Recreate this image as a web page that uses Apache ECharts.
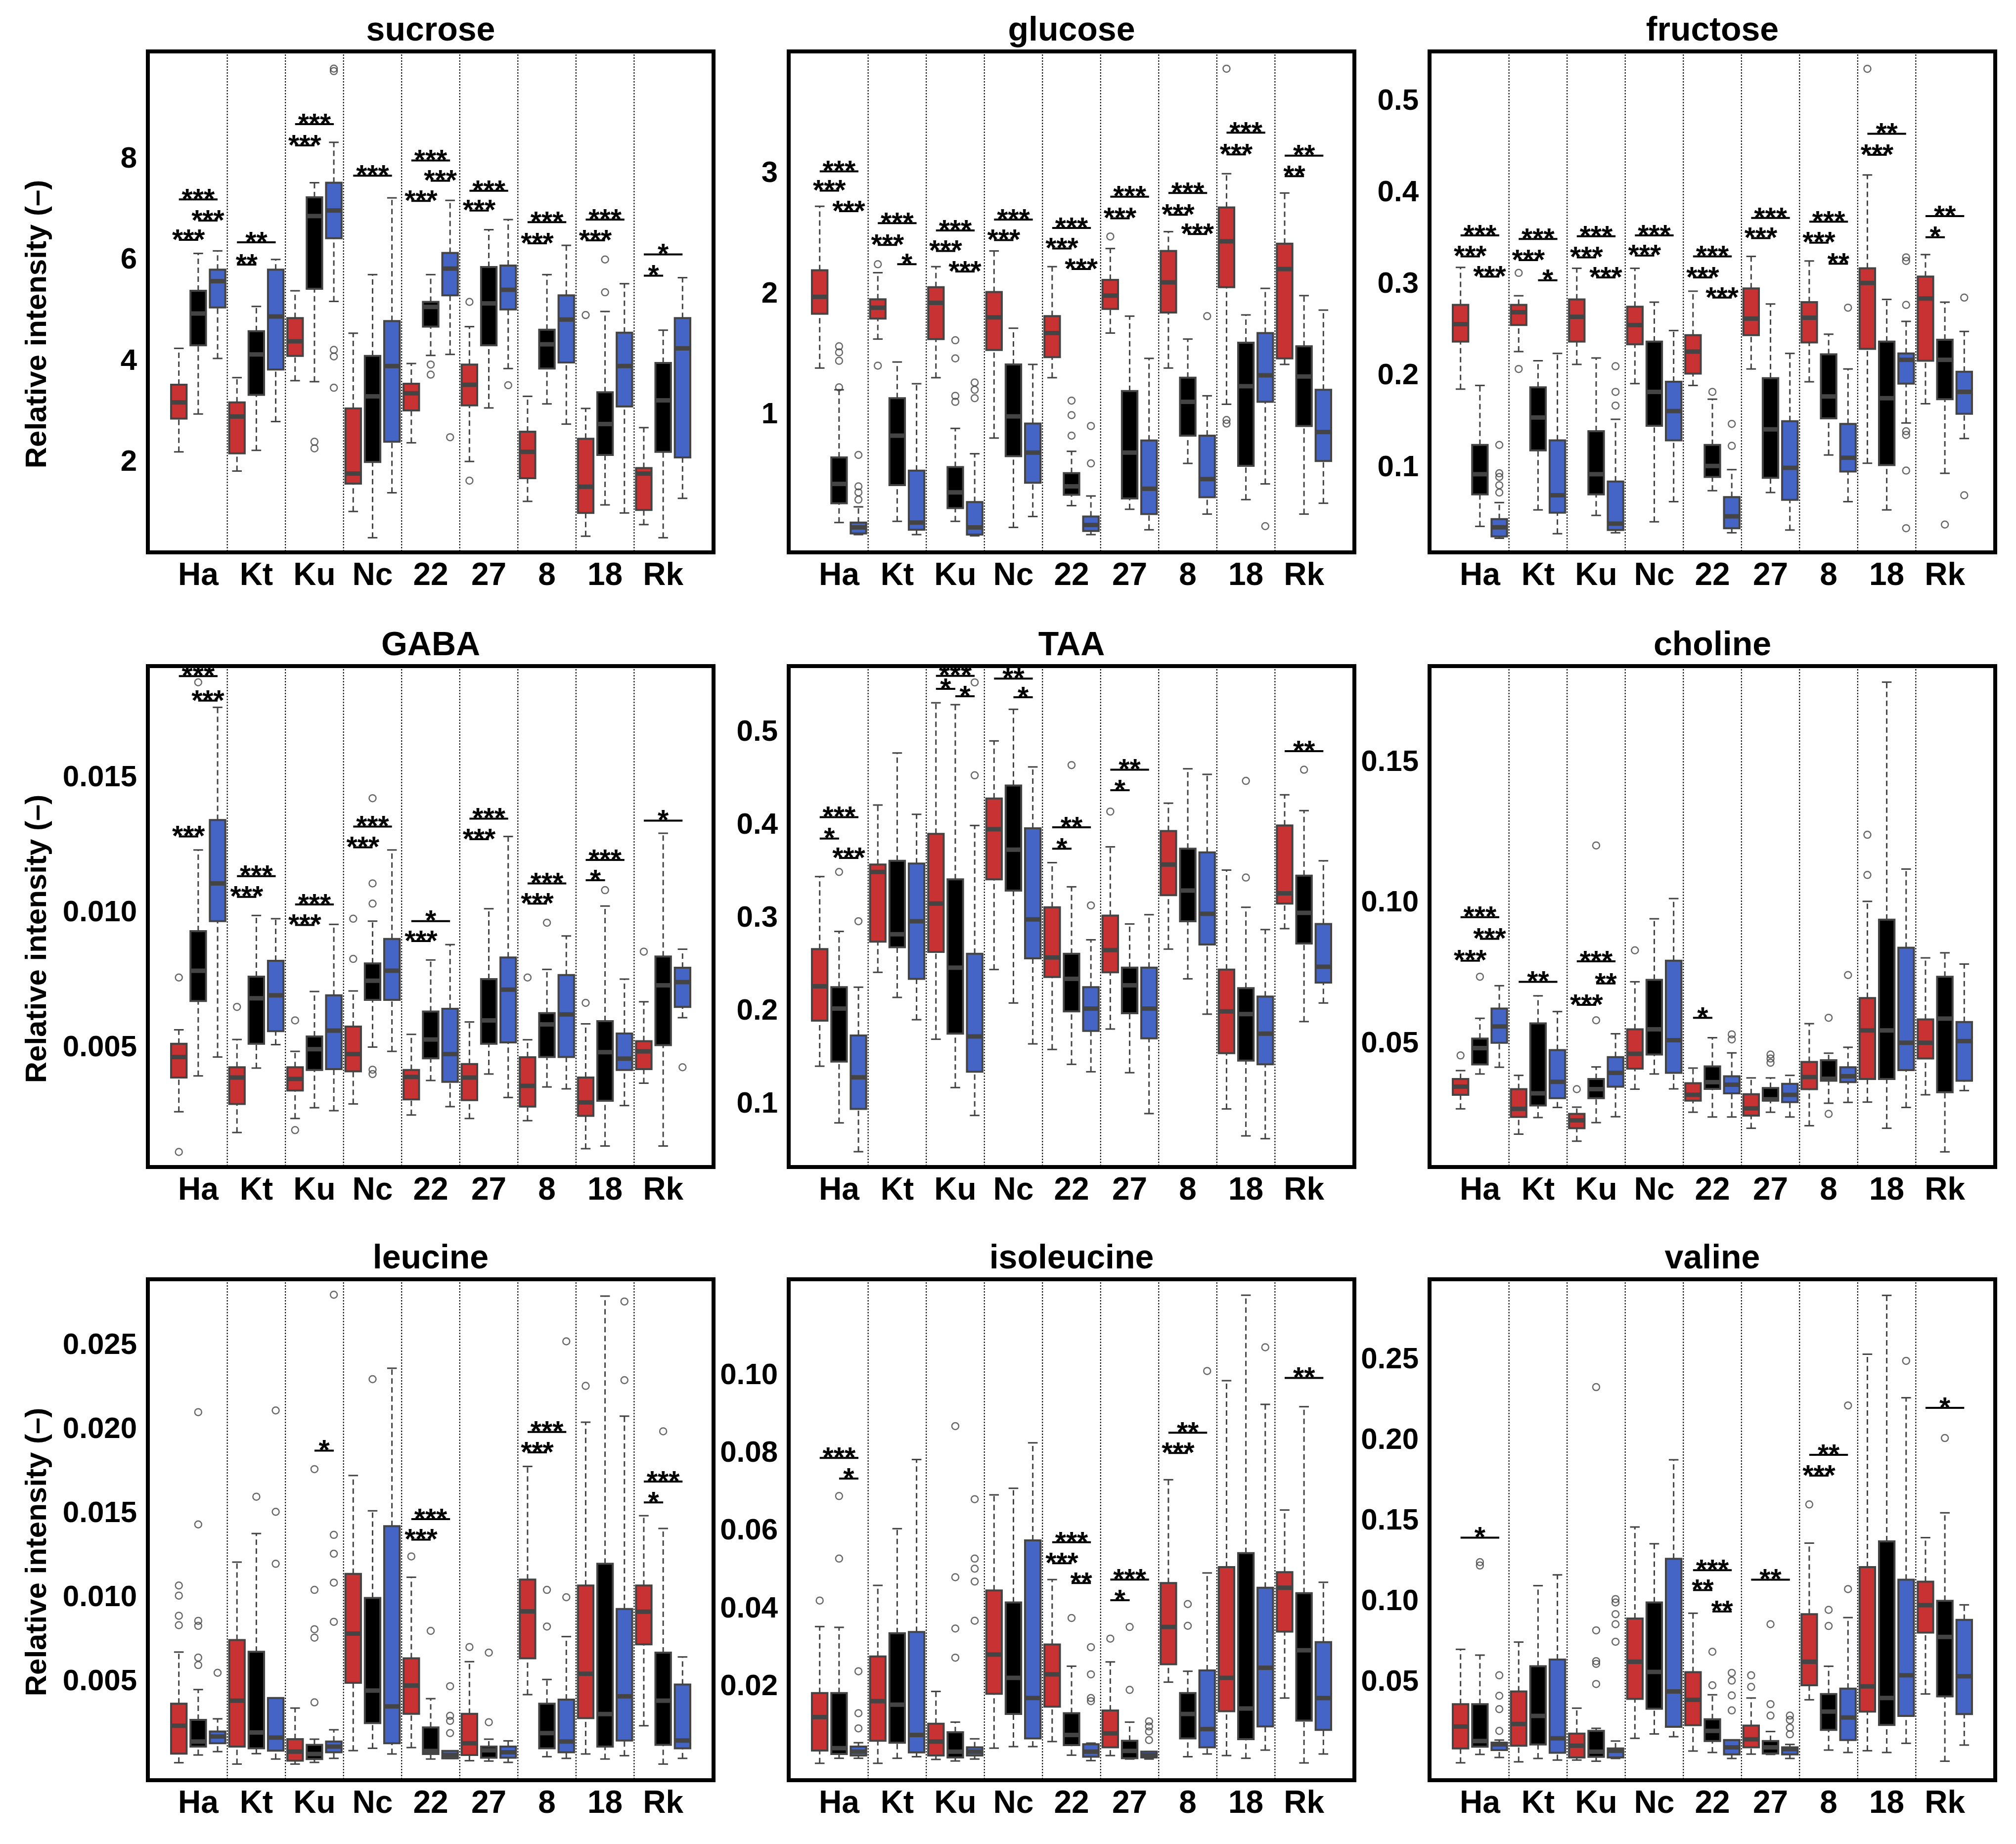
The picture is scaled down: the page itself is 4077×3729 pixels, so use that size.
<!DOCTYPE html>
<html>
<head>
<meta charset="utf-8">
<title>Relative intensity by group</title>
<script src="https://cdn.jsdelivr.net/npm/echarts@6/dist/echarts.min.js"></script>
<style>
  html, body { margin: 0; padding: 0; background: #fff; }
  #chart { width: 4077px; height: 3729px; }
</style>
</head>
<body>
<div id="chart"></div>
<script>
// groups on the x axis, three boxes each: red, black, blue
const groups = ['Ha', 'Kt', 'Ku', 'Nc', '22', '27', '8', '18', 'Rk'];

// box stats per group: [lower whisker, Q1, median, Q3, upper whisker]
// outliers: [group, box (0 red, 1 black, 2 blue), value]
// significance: [group, from box, to box, y, stars]

const sucroseRed = [[2.21, 2.87, 3.19, 3.54, 4.26], [1.83, 2.18, 2.91, 3.19, 3.68], [3.62, 4.11, 4.40, 4.86, 5.40], [1.03, 1.58, 1.78, 3.07, 4.56], [2.39, 3.03, 3.37, 3.56, 3.96], [2.02, 3.13, 3.54, 3.94, 4.69], [1.23, 1.69, 2.21, 2.61, 3.31], [0.54, 1.00, 1.52, 2.47, 3.07], [0.77, 1.06, 1.78, 1.89, 2.69]];
const sucroseBlack = [[2.96, 4.32, 4.95, 5.40, 6.14], [2.24, 3.34, 4.14, 4.60, 5.09], [3.60, 5.44, 6.88, 7.25, 7.54], [0.51, 2.01, 3.31, 4.11, 5.72], [4.12, 4.69, 5.08, 5.18, 5.72], [3.08, 4.32, 5.15, 5.87, 6.61], [3.16, 3.86, 4.34, 4.63, 5.72], [1.16, 2.15, 2.76, 3.39, 4.99], [0.51, 2.21, 3.23, 3.97, 4.62]];
const sucroseBlue = [[4.06, 5.07, 5.59, 5.82, 6.19], [2.81, 3.84, 4.89, 5.82, 6.02], [5.19, 6.44, 6.99, 7.54, 8.34], [1.40, 2.41, 3.91, 4.80, 7.24], [4.14, 5.31, 5.84, 6.15, 7.19], [3.86, 5.03, 5.42, 5.90, 6.81], [2.76, 3.98, 4.83, 5.31, 6.30], [1.00, 3.11, 3.91, 4.57, 5.54], [1.29, 2.10, 4.26, 4.86, 5.66]];
const sucroseOut = [[2, 1, 2.41], [2, 1, 2.28], [2, 2, 9.80], [2, 2, 9.75], [2, 2, 4.23], [2, 2, 4.10], [2, 2, 3.48], [4, 1, 3.94], [4, 1, 3.74], [4, 2, 2.50], [5, 0, 5.18], [5, 0, 1.64], [5, 2, 3.53], [7, 0, 4.92], [7, 1, 6.02], [7, 1, 5.37]];
const sucroseSig = [[0, 0, 2, 7.21, '***'], [0, 1, 2, 6.79, '***'], [0, 0, 1, 6.41, '***'], [1, 0, 2, 6.36, '**'], [1, 0, 1, 5.92, '**'], [2, 0, 2, 8.70, '***'], [2, 0, 1, 8.28, '***'], [3, 0, 2, 7.68, '***'], [4, 0, 2, 7.98, '***'], [4, 1, 2, 7.58, '***'], [4, 0, 1, 7.18, '***'], [5, 0, 2, 7.38, '***'], [5, 0, 1, 6.99, '***'], [6, 0, 2, 6.76, '***'], [6, 0, 1, 6.34, '***'], [7, 0, 2, 6.81, '***'], [7, 0, 1, 6.40, '***'], [8, 0, 2, 6.12, '*'], [8, 0, 1, 5.70, '*']];
const sucroseTicks = [2, 4, 6, 8];

const glucoseRed = [[1.39, 1.84, 1.98, 2.20, 2.73], [1.63, 1.80, 1.89, 1.96, 2.18], [1.31, 1.63, 1.93, 2.06, 2.23], [0.81, 1.54, 1.81, 2.02, 2.36], [1.31, 1.48, 1.68, 1.82, 2.23], [1.68, 1.88, 1.99, 2.12, 2.38], [1.39, 1.85, 2.10, 2.36, 2.52], [1.09, 2.06, 2.44, 2.72, 3.00], [1.42, 1.47, 2.21, 2.42, 2.84]];
const glucoseBlack = [[0.11, 0.27, 0.43, 0.65, 1.21], [0.12, 0.42, 0.83, 1.14, 1.44], [0.12, 0.23, 0.36, 0.57, 0.89], [0.07, 0.66, 0.99, 1.42, 1.72], [0.25, 0.34, 0.41, 0.52, 0.70], [0.22, 0.31, 0.69, 1.20, 1.82], [0.60, 0.83, 1.11, 1.31, 1.63], [0.30, 0.58, 1.24, 1.60, 1.83], [0.18, 0.91, 1.32, 1.57, 1.99]];
const glucoseBlue = [[0.01, 0.02, 0.07, 0.11, 0.24], [0.01, 0.05, 0.11, 0.54, 1.26], [0.00, 0.01, 0.07, 0.28, 0.68], [0.16, 0.44, 0.69, 0.93, 1.42], [0.01, 0.04, 0.09, 0.16, 0.33], [0.05, 0.18, 0.39, 0.79, 1.47], [0.18, 0.32, 0.47, 0.83, 1.16], [0.43, 1.11, 1.33, 1.68, 2.05], [0.27, 0.62, 0.86, 1.21, 1.87]];
const glucoseOut = [[0, 1, 1.57], [0, 1, 1.52], [0, 1, 1.45], [0, 1, 1.23], [0, 2, 0.67], [0, 2, 0.41], [0, 2, 0.36], [0, 2, 0.30], [1, 0, 2.25], [1, 0, 1.41], [2, 1, 1.62], [2, 1, 1.47], [2, 1, 1.16], [2, 1, 1.11], [2, 2, 1.27], [2, 2, 1.21], [2, 2, 1.14], [4, 1, 1.12], [4, 1, 1.00], [4, 1, 0.83], [4, 2, 0.91], [4, 2, 0.60], [5, 0, 2.48], [6, 2, 1.82], [7, 0, 3.87], [7, 0, 0.96], [7, 0, 0.93], [7, 2, 0.08]];
const glucoseSig = [[0, 0, 2, 3.02, '***'], [0, 0, 1, 2.86, '***'], [0, 1, 2, 2.69, '***'], [1, 0, 2, 2.59, '***'], [1, 0, 1, 2.41, '***'], [1, 1, 2, 2.25, '*'], [2, 0, 2, 2.53, '***'], [2, 0, 1, 2.36, '***'], [2, 1, 2, 2.19, '***'], [3, 0, 2, 2.62, '***'], [3, 0, 1, 2.45, '***'], [4, 0, 2, 2.55, '***'], [4, 0, 1, 2.38, '***'], [4, 1, 2, 2.21, '***'], [5, 0, 2, 2.81, '***'], [5, 0, 1, 2.63, '***'], [6, 0, 2, 2.84, '***'], [6, 0, 1, 2.66, '***'], [6, 1, 2, 2.50, '***'], [7, 0, 2, 3.34, '***'], [7, 0, 1, 3.16, '***'], [8, 0, 2, 3.15, '**'], [8, 0, 1, 2.98, '**']];
const glucoseTicks = [1, 2, 3];

const fructoseRed = [[0.186, 0.238, 0.257, 0.278, 0.319], [0.227, 0.256, 0.270, 0.278, 0.288], [0.213, 0.238, 0.265, 0.284, 0.318], [0.192, 0.235, 0.256, 0.276, 0.318], [0.190, 0.203, 0.227, 0.245, 0.293], [0.208, 0.245, 0.263, 0.296, 0.331], [0.194, 0.237, 0.264, 0.281, 0.326], [0.105, 0.230, 0.302, 0.318, 0.420], [0.170, 0.217, 0.285, 0.309, 0.333]];
const fructoseBlack = [[0.036, 0.071, 0.093, 0.125, 0.190], [0.054, 0.119, 0.155, 0.188, 0.217], [0.048, 0.071, 0.093, 0.140, 0.220], [0.041, 0.146, 0.183, 0.238, 0.281], [0.075, 0.090, 0.102, 0.125, 0.175], [0.073, 0.089, 0.142, 0.198, 0.279], [0.114, 0.154, 0.178, 0.224, 0.246], [0.054, 0.103, 0.176, 0.238, 0.284], [0.094, 0.175, 0.218, 0.240, 0.281]];
const fructoseBlue = [[0.023, 0.025, 0.035, 0.044, 0.062], [0.028, 0.051, 0.070, 0.130, 0.225], [0.029, 0.032, 0.039, 0.085, 0.153], [0.063, 0.130, 0.162, 0.194, 0.250], [0.029, 0.034, 0.047, 0.068, 0.098], [0.032, 0.065, 0.100, 0.151, 0.225], [0.063, 0.096, 0.111, 0.148, 0.208], [0.149, 0.192, 0.218, 0.225, 0.260], [0.132, 0.159, 0.183, 0.205, 0.249]];
const fructoseOut = [[0, 2, 0.125], [0, 2, 0.094], [0, 2, 0.090], [0, 2, 0.081], [0, 2, 0.073], [1, 0, 0.313], [1, 0, 0.208], [2, 2, 0.211], [2, 2, 0.183], [2, 2, 0.168], [4, 1, 0.183], [4, 2, 0.148], [4, 2, 0.124], [6, 2, 0.275], [7, 0, 0.536], [7, 2, 0.330], [7, 2, 0.326], [7, 2, 0.278], [7, 2, 0.140], [7, 2, 0.136], [7, 2, 0.097], [7, 2, 0.034], [8, 1, 0.038], [8, 2, 0.286], [8, 2, 0.070]];
const fructoseSig = [[0, 0, 2, 0.354, '***'], [0, 0, 1, 0.331, '***'], [0, 1, 2, 0.309, '***'], [1, 0, 2, 0.350, '***'], [1, 0, 1, 0.327, '***'], [1, 1, 2, 0.305, '*'], [2, 0, 2, 0.353, '***'], [2, 0, 1, 0.330, '***'], [2, 1, 2, 0.308, '***'], [3, 0, 2, 0.354, '***'], [3, 0, 1, 0.332, '***'], [4, 0, 2, 0.331, '***'], [4, 0, 1, 0.308, '***'], [4, 1, 2, 0.286, '***'], [5, 0, 2, 0.373, '***'], [5, 0, 1, 0.351, '***'], [6, 0, 2, 0.369, '***'], [6, 0, 1, 0.346, '***'], [6, 1, 2, 0.323, '**'], [7, 0, 2, 0.465, '**'], [7, 0, 1, 0.442, '***'], [8, 0, 2, 0.375, '**'], [8, 0, 1, 0.352, '*']];
const fructoseTicks = [0.1, 0.2, 0.3, 0.4, 0.5];

const gabaRed = [[0.00263, 0.00390, 0.00466, 0.00515, 0.00567], [0.00186, 0.00292, 0.00390, 0.00428, 0.00531], [0.00238, 0.00342, 0.00385, 0.00428, 0.00487], [0.00292, 0.00413, 0.00477, 0.00579, 0.00711], [0.00251, 0.00309, 0.00392, 0.00418, 0.00550], [0.00238, 0.00306, 0.00390, 0.00440, 0.00596], [0.00230, 0.00282, 0.00359, 0.00465, 0.00530], [0.00126, 0.00248, 0.00298, 0.00390, 0.00589], [0.00369, 0.00421, 0.00487, 0.00525, 0.00671]];
const gabaBlack = [[0.00396, 0.00674, 0.00786, 0.00933, 0.01234], [0.00425, 0.00515, 0.00684, 0.00764, 0.00991], [0.00278, 0.00418, 0.00495, 0.00542, 0.00709], [0.00503, 0.00678, 0.00749, 0.00813, 0.00970], [0.00379, 0.00461, 0.00531, 0.00635, 0.00826], [0.00403, 0.00515, 0.00602, 0.00755, 0.01016], [0.00355, 0.00466, 0.00587, 0.00629, 0.00791], [0.00136, 0.00304, 0.00484, 0.00599, 0.01026], [0.00136, 0.00510, 0.00732, 0.00839, 0.01296]];
const gabaBlue = [[0.00466, 0.00970, 0.01110, 0.01345, 0.01763], [0.00512, 0.00562, 0.00695, 0.00823, 0.00979], [0.00267, 0.00421, 0.00564, 0.00695, 0.00958], [0.00487, 0.00678, 0.00786, 0.00904, 0.01234], [0.00282, 0.00374, 0.00477, 0.00645, 0.00883], [0.00316, 0.00520, 0.00716, 0.00835, 0.01284], [0.00348, 0.00466, 0.00624, 0.00770, 0.00915], [0.00286, 0.00418, 0.00460, 0.00553, 0.00755], [0.00612, 0.00652, 0.00744, 0.00797, 0.00866]];
const gabaOut = [[0, 0, 0.00761], [0, 0, 0.00114], [0, 1, 0.01856], [1, 0, 0.00652], [2, 0, 0.00602], [2, 0, 0.00195], [3, 0, 0.00979], [3, 0, 0.00830], [3, 1, 0.01426], [3, 1, 0.01110], [3, 1, 0.01035], [3, 1, 0.00419], [3, 1, 0.00403], [6, 0, 0.00761], [6, 1, 0.00964], [7, 0, 0.00667], [7, 1, 0.01085], [8, 0, 0.00857], [8, 2, 0.00428]];
const gabaSig = [[0, 0, 2, 0.01879, '***'], [0, 1, 2, 0.01788, '***'], [0, 0, 1, 0.01284, '***'], [1, 0, 2, 0.01137, '***'], [1, 0, 1, 0.01060, '***'], [2, 0, 2, 0.01032, '***'], [2, 0, 1, 0.00956, '***'], [3, 0, 2, 0.01321, '***'], [3, 0, 1, 0.01244, '***'], [4, 0, 2, 0.00970, '*'], [4, 0, 1, 0.00896, '***'], [5, 0, 2, 0.01350, '***'], [5, 0, 1, 0.01274, '***'], [6, 0, 2, 0.01110, '***'], [6, 0, 1, 0.01035, '***'], [7, 0, 2, 0.01197, '***'], [7, 0, 1, 0.01122, '*'], [8, 0, 2, 0.01343, '*']];
const gabaTicks = [0.005, 0.010, 0.015];

const taaRed = [[0.141, 0.190, 0.227, 0.267, 0.345], [0.242, 0.275, 0.350, 0.358, 0.422], [0.170, 0.264, 0.316, 0.391, 0.532], [0.245, 0.342, 0.396, 0.429, 0.491], [0.159, 0.237, 0.258, 0.312, 0.360], [0.181, 0.242, 0.266, 0.303, 0.377], [0.267, 0.325, 0.358, 0.394, 0.424], [0.095, 0.155, 0.200, 0.245, 0.352], [0.289, 0.316, 0.327, 0.400, 0.433]];
const taaBlack = [[0.080, 0.146, 0.203, 0.226, 0.286], [0.215, 0.269, 0.283, 0.362, 0.478], [0.118, 0.176, 0.247, 0.342, 0.530], [0.209, 0.330, 0.374, 0.443, 0.525], [0.143, 0.200, 0.235, 0.262, 0.334], [0.134, 0.198, 0.228, 0.247, 0.294], [0.235, 0.297, 0.330, 0.375, 0.461], [0.066, 0.147, 0.197, 0.225, 0.312], [0.189, 0.273, 0.306, 0.346, 0.416]];
const taaBlue = [[0.049, 0.095, 0.129, 0.174, 0.226], [0.191, 0.235, 0.297, 0.359, 0.412], [0.088, 0.135, 0.173, 0.262, 0.400], [0.165, 0.257, 0.299, 0.397, 0.463], [0.135, 0.179, 0.203, 0.226, 0.277], [0.090, 0.171, 0.203, 0.247, 0.304], [0.197, 0.272, 0.305, 0.371, 0.455], [0.063, 0.143, 0.176, 0.216, 0.288], [0.209, 0.231, 0.248, 0.294, 0.362]];
const taaOut = [[0, 1, 0.350], [0, 2, 0.297], [2, 2, 0.554], [2, 2, 0.454], [4, 1, 0.465], [4, 2, 0.314], [5, 0, 0.415], [7, 1, 0.448], [7, 1, 0.344], [8, 1, 0.460]];
const taaSig = [[0, 0, 2, 0.409, '***'], [0, 0, 1, 0.386, '*'], [0, 1, 2, 0.365, '***'], [2, 0, 2, 0.561, '***'], [2, 0, 1, 0.547, '*'], [2, 1, 2, 0.539, '*'], [3, 0, 2, 0.558, '**'], [3, 1, 2, 0.538, '*'], [4, 0, 2, 0.398, '**'], [4, 0, 1, 0.375, '*'], [5, 0, 2, 0.460, '**'], [5, 0, 1, 0.438, '*'], [8, 0, 2, 0.480, '**']];
const taaTicks = [0.1, 0.2, 0.3, 0.4, 0.5];

const cholineRed = [[0.0269, 0.0319, 0.0348, 0.0375, 0.0405], [0.0179, 0.0240, 0.0269, 0.0339, 0.0388], [0.0154, 0.0200, 0.0228, 0.0251, 0.0275], [0.0339, 0.0412, 0.0465, 0.0552, 0.0721], [0.0257, 0.0298, 0.0319, 0.0360, 0.0414], [0.0200, 0.0245, 0.0271, 0.0321, 0.0379], [0.0209, 0.0339, 0.0382, 0.0436, 0.0572], [0.0293, 0.0375, 0.0548, 0.0663, 0.1007], [0.0319, 0.0448, 0.0504, 0.0587, 0.0806]];
const cholineBlack = [[0.0393, 0.0427, 0.0485, 0.0519, 0.0591], [0.0238, 0.0281, 0.0324, 0.0573, 0.0671], [0.0220, 0.0307, 0.0339, 0.0375, 0.0418], [0.0393, 0.0462, 0.0552, 0.0728, 0.0945], [0.0240, 0.0340, 0.0364, 0.0420, 0.0522], [0.0257, 0.0298, 0.0303, 0.0343, 0.0379], [0.0289, 0.0369, 0.0376, 0.0442, 0.0467], [0.0200, 0.0375, 0.0548, 0.0942, 0.1787], [0.0116, 0.0328, 0.0590, 0.0739, 0.0824]];
const cholineBlue = [[0.0417, 0.0504, 0.0562, 0.0626, 0.0707], [0.0274, 0.0307, 0.0365, 0.0478, 0.0615], [0.0241, 0.0348, 0.0397, 0.0453, 0.0536], [0.0340, 0.0397, 0.0513, 0.0796, 0.1017], [0.0240, 0.0324, 0.0355, 0.0385, 0.0468], [0.0240, 0.0293, 0.0319, 0.0358, 0.0388], [0.0292, 0.0364, 0.0385, 0.0417, 0.0488], [0.0274, 0.0407, 0.0504, 0.0842, 0.1122], [0.0334, 0.0369, 0.0510, 0.0578, 0.0784]];
const cholineOut = [[0, 0, 0.0459], [0, 1, 0.0739], [2, 0, 0.0339], [2, 1, 0.1206], [2, 1, 0.0584], [3, 0, 0.0833], [4, 2, 0.0534], [4, 2, 0.0516], [5, 1, 0.0462], [5, 1, 0.0448], [5, 1, 0.0433], [6, 1, 0.0593], [6, 1, 0.0251], [6, 2, 0.0745], [7, 0, 0.1244], [7, 0, 0.1101]];
const cholineSig = [[0, 0, 2, 0.0951, '***'], [0, 1, 2, 0.0874, '***'], [0, 0, 1, 0.0796, '***'], [1, 0, 2, 0.0721, '**'], [2, 0, 2, 0.0794, '***'], [2, 1, 2, 0.0715, '**'], [2, 0, 1, 0.0639, '***'], [4, 0, 1, 0.0593, '*']];
const cholineTicks = [0.05, 0.10, 0.15];

const leucineRed = [[0.00020, 0.00074, 0.00240, 0.00371, 0.00678], [0.00012, 0.00116, 0.00389, 0.00750, 0.01213], [0.00012, 0.00032, 0.00086, 0.00160, 0.00345], [0.00092, 0.00495, 0.00788, 0.01143, 0.01728], [0.00110, 0.00311, 0.00479, 0.00641, 0.01123], [0.00032, 0.00066, 0.00136, 0.00311, 0.00621], [0.00425, 0.00641, 0.00920, 0.01109, 0.01782], [0.00072, 0.00285, 0.00549, 0.01074, 0.02045], [0.00240, 0.00724, 0.00918, 0.01074, 0.01489]];
const leucineBlack = [[0.00066, 0.00116, 0.00146, 0.00275, 0.00455], [0.00074, 0.00106, 0.00200, 0.00680, 0.01383], [0.00022, 0.00042, 0.00072, 0.00126, 0.00160], [0.00106, 0.00256, 0.00449, 0.01000, 0.01518], [0.00042, 0.00072, 0.00090, 0.00230, 0.00401], [0.00030, 0.00050, 0.00094, 0.00116, 0.00160], [0.00056, 0.00106, 0.00196, 0.00371, 0.00515], [0.00042, 0.00116, 0.00309, 0.01203, 0.02795], [0.00012, 0.00126, 0.00389, 0.00675, 0.01413]];
const leucineBlue = [[0.00086, 0.00136, 0.00176, 0.00206, 0.00281], [0.00042, 0.00092, 0.00170, 0.00405, 0.00405], [0.00046, 0.00082, 0.00116, 0.00146, 0.00216], [0.00072, 0.00136, 0.00355, 0.01427, 0.02366], [0.00046, 0.00046, 0.00066, 0.00090, 0.00090], [0.00022, 0.00050, 0.00082, 0.00116, 0.00150], [0.00046, 0.00082, 0.00146, 0.00395, 0.00770], [0.00062, 0.00152, 0.00415, 0.00934, 0.02081], [0.00046, 0.00106, 0.00152, 0.00485, 0.00649]];
const leucineOut = [[0, 0, 0.01074], [0, 0, 0.01014], [0, 0, 0.00894], [0, 0, 0.00838], [0, 1, 0.02105], [0, 1, 0.01437], [0, 1, 0.00864], [0, 1, 0.00834], [0, 1, 0.00645], [0, 1, 0.00601], [0, 2, 0.00555], [1, 1, 0.01602], [1, 2, 0.02115], [1, 2, 0.01512], [1, 2, 0.01203], [2, 1, 0.01766], [2, 1, 0.01048], [2, 1, 0.00814], [2, 1, 0.00764], [2, 1, 0.00379], [2, 2, 0.02803], [2, 2, 0.01375], [2, 2, 0.01263], [2, 2, 0.01091], [2, 2, 0.00858], [3, 1, 0.02301], [4, 0, 0.01247], [4, 1, 0.00804], [4, 2, 0.00475], [4, 2, 0.00299], [4, 2, 0.00269], [4, 2, 0.00196], [5, 0, 0.00708], [5, 1, 0.00675], [5, 1, 0.00261], [6, 1, 0.01048], [6, 1, 0.00830], [6, 2, 0.02526], [6, 2, 0.01004], [7, 0, 0.02261], [7, 2, 0.02763], [7, 2, 0.02295], [8, 1, 0.01991]];
const leucineSig = [[2, 1, 2, 0.01876, '*'], [4, 0, 2, 0.01469, '***'], [4, 0, 1, 0.01347, '***'], [6, 0, 2, 0.01987, '***'], [6, 0, 1, 0.01866, '***'], [8, 0, 2, 0.01692, '***'], [8, 0, 1, 0.01568, '*']];
const leucineTicks = [0.005, 0.010, 0.015, 0.020, 0.025];

const isoleucineRed = [[0.0003, 0.0036, 0.0122, 0.0184, 0.0355], [0.0003, 0.0061, 0.0163, 0.0278, 0.0461], [0.0013, 0.0023, 0.0059, 0.0105, 0.0188], [0.0042, 0.0182, 0.0283, 0.0448, 0.0694], [0.0059, 0.0149, 0.0232, 0.0309, 0.0476], [0.0023, 0.0044, 0.0080, 0.0139, 0.0264], [0.0212, 0.0258, 0.0354, 0.0467, 0.0733], [0.0023, 0.0137, 0.0223, 0.0508, 0.0988], [0.0171, 0.0342, 0.0455, 0.0495, 0.0655]];
const isoleucineBlack = [[0.0016, 0.0027, 0.0042, 0.0184, 0.0353], [0.0016, 0.0056, 0.0154, 0.0338, 0.0607], [0.0009, 0.0018, 0.0033, 0.0083, 0.0109], [0.0046, 0.0130, 0.0223, 0.0417, 0.0711], [0.0024, 0.0050, 0.0076, 0.0132, 0.0253], [0.0014, 0.0016, 0.0035, 0.0061, 0.0109], [0.0020, 0.0067, 0.0130, 0.0184, 0.0240], [0.0016, 0.0065, 0.0144, 0.0544, 0.1208], [0.0004, 0.0113, 0.0294, 0.0441, 0.0921]];
const isoleucineBlue = [[0.0016, 0.0023, 0.0033, 0.0046, 0.0056], [0.0020, 0.0031, 0.0076, 0.0341, 0.0785], [0.0014, 0.0023, 0.0033, 0.0044, 0.0066], [0.0046, 0.0067, 0.0171, 0.0577, 0.0828], [0.0010, 0.0020, 0.0033, 0.0052, 0.0055], [0.0014, 0.0018, 0.0024, 0.0033, 0.0033], [0.0027, 0.0044, 0.0091, 0.0242, 0.0493], [0.0037, 0.0098, 0.0249, 0.0455, 0.0927], [0.0027, 0.0089, 0.0171, 0.0315, 0.0469]];
const isoleucineOut = [[0, 0, 0.0422], [0, 1, 0.0691], [0, 1, 0.0530], [0, 2, 0.0240], [0, 2, 0.0132], [0, 2, 0.0093], [2, 1, 0.0871], [2, 1, 0.0482], [2, 1, 0.0350], [2, 1, 0.0275], [2, 2, 0.0683], [2, 2, 0.0530], [2, 2, 0.0504], [2, 2, 0.0471], [2, 2, 0.0370], [4, 1, 0.0377], [4, 2, 0.0302], [4, 2, 0.0232], [4, 2, 0.0171], [4, 2, 0.0163], [5, 0, 0.0324], [5, 1, 0.0354], [5, 1, 0.0192], [5, 2, 0.0111], [5, 2, 0.0098], [5, 2, 0.0085], [5, 2, 0.0063], [6, 1, 0.0413], [6, 1, 0.0357], [6, 2, 0.1013], [7, 2, 0.1074]];
const isoleucineSig = [[0, 0, 2, 0.0789, '***'], [0, 1, 2, 0.0736, '*'], [4, 0, 2, 0.0572, '***'], [4, 0, 1, 0.0518, '***'], [4, 1, 2, 0.0467, '**'], [5, 0, 2, 0.0476, '***'], [5, 0, 1, 0.0423, '*'], [6, 0, 2, 0.0854, '**'], [6, 0, 1, 0.0802, '***'], [8, 0, 2, 0.0995, '**']];
const isoleucineTicks = [0.02, 0.04, 0.06, 0.08, 0.10];

const valineRed = [[0.0003, 0.0092, 0.0228, 0.0367, 0.0707], [0.0009, 0.0109, 0.0244, 0.0446, 0.0752], [0.0020, 0.0036, 0.0109, 0.0184, 0.0342], [0.0155, 0.0400, 0.0630, 0.0898, 0.1466], [0.0076, 0.0236, 0.0394, 0.0565, 0.0931], [0.0057, 0.0099, 0.0149, 0.0234, 0.0405], [0.0394, 0.0484, 0.0630, 0.0925, 0.1366], [0.0078, 0.0321, 0.0477, 0.1217, 0.2538], [0.0430, 0.0811, 0.0981, 0.1127, 0.1400]];
const valineBlack = [[0.0055, 0.0103, 0.0138, 0.0367, 0.0671], [0.0030, 0.0117, 0.0294, 0.0602, 0.1102], [0.0013, 0.0040, 0.0072, 0.0201, 0.0217], [0.0182, 0.0338, 0.0567, 0.0998, 0.1362], [0.0067, 0.0138, 0.0201, 0.0273, 0.0425], [0.0055, 0.0061, 0.0099, 0.0138, 0.0197], [0.0082, 0.0207, 0.0321, 0.0430, 0.0602], [0.0067, 0.0238, 0.0405, 0.1377, 0.2903], [0.0013, 0.0415, 0.0784, 0.1008, 0.1554]];
const valineBlue = [[0.0036, 0.0082, 0.0117, 0.0128, 0.0144], [0.0020, 0.0065, 0.0155, 0.0644, 0.1169], [0.0030, 0.0036, 0.0078, 0.0092, 0.0138], [0.0165, 0.0226, 0.0446, 0.1269, 0.1883], [0.0030, 0.0055, 0.0099, 0.0144, 0.0144], [0.0030, 0.0055, 0.0088, 0.0099, 0.0117], [0.0067, 0.0144, 0.0284, 0.0463, 0.0904], [0.0124, 0.0294, 0.0546, 0.1139, 0.2268], [0.0113, 0.0305, 0.0540, 0.0890, 0.0983]];
const valineOut = [[0, 1, 0.1248], [0, 1, 0.1227], [0, 2, 0.0546], [0, 2, 0.0419], [0, 2, 0.0336], [0, 2, 0.0201], [2, 1, 0.2334], [2, 1, 0.0825], [2, 1, 0.0634], [2, 1, 0.0617], [2, 1, 0.0492], [2, 2, 0.1019], [2, 2, 0.0998], [2, 2, 0.0925], [2, 2, 0.0863], [2, 2, 0.0754], [4, 1, 0.0692], [4, 1, 0.0484], [4, 2, 0.0561], [4, 2, 0.0513], [4, 2, 0.0421], [4, 2, 0.0328], [5, 0, 0.0546], [5, 0, 0.0474], [5, 1, 0.0863], [5, 1, 0.0367], [5, 1, 0.0296], [5, 2, 0.0296], [5, 2, 0.0269], [5, 2, 0.0221], [5, 2, 0.0180], [6, 0, 0.1606], [6, 1, 0.0952], [6, 1, 0.0852], [6, 2, 0.2220], [6, 2, 0.1081], [7, 2, 0.2497], [8, 1, 0.2018]];
const valineSig = [[0, 0, 2, 0.1400, '*'], [4, 0, 2, 0.1198, '***'], [4, 0, 1, 0.1075, '**'], [4, 1, 2, 0.0942, '**'], [5, 0, 2, 0.1139, '**'], [6, 0, 2, 0.1914, '**'], [6, 0, 1, 0.1785, '***'], [8, 0, 2, 0.2205, '*']];
const valineTicks = [0.05, 0.10, 0.15, 0.20, 0.25];

const panels = [
    { title: 'sucrose', red: sucroseRed, black: sucroseBlack, blue: sucroseBlue, out: sucroseOut, sig: sucroseSig, ticks: sucroseTicks, digits: 0, min: 0.22, max: 10.14 },
    { title: 'glucose', red: glucoseRed, black: glucoseBlack, blue: glucoseBlue, out: glucoseOut, sig: glucoseSig, ticks: glucoseTicks, digits: 0, min: -0.137, max: 4.013 },
    { title: 'fructose', red: fructoseRed, black: fructoseBlack, blue: fructoseBlue, out: fructoseOut, sig: fructoseSig, ticks: fructoseTicks, digits: 1, min: 0.0076, max: 0.555 },
    { title: 'GABA', red: gabaRed, black: gabaBlack, blue: gabaBlue, out: gabaOut, sig: gabaSig, ticks: gabaTicks, digits: 3, min: 0.00058, max: 0.01916 },
    { title: 'TAA', red: taaRed, black: taaBlack, blue: taaBlue, out: taaOut, sig: taaSig, ticks: taaTicks, digits: 1, min: 0.0325, max: 0.5715 },
    { title: 'choline', red: cholineRed, black: cholineBlack, blue: cholineBlue, out: cholineOut, sig: cholineSig, ticks: cholineTicks, digits: 2, min: 0.0062, max: 0.1844 },
    { title: 'leucine', red: leucineRed, black: leucineBlack, blue: leucineBlue, out: leucineOut, sig: leucineSig, ticks: leucineTicks, digits: 3, min: -0.00084, max: 0.02895 },
    { title: 'isoleucine', red: isoleucineRed, black: isoleucineBlack, blue: isoleucineBlue, out: isoleucineOut, sig: isoleucineSig, ticks: isoleucineTicks, digits: 2, min: -0.00405, max: 0.1249 },
    { title: 'valine', red: valineRed, black: valineBlack, blue: valineBlue, out: valineOut, sig: valineSig, ticks: valineTicks, digits: 2, min: -0.0105, max: 0.3003 }
];

const FILLS = ['#c83232', '#000000', '#4565c6'];
const EDGE = '#444444';
const FONT = '"Liberation Sans", Arial, sans-serif';
const COL_LEFT = [299, 1595, 2891];
const ROW_TOP = [104, 1347, 2587];
const PLOT_W = 1144;
const PLOT_H = 1013;

// position of box s (0..2) of group g on the x axis
function slot(g, s) {
    return 3 * g + s + 1;
}

function boxRenderer(params, api) {
    const x = api.value(0);
    const lo = api.coord([x, api.value(1)]);
    const q1 = api.coord([x, api.value(2)]);
    const md = api.coord([x, api.value(3)]);
    const q3 = api.coord([x, api.value(4)]);
    const hi = api.coord([x, api.value(5)]);
    const unit = api.size([1, 0])[0];
    const half = unit * 0.4;
    const cap = unit * 0.25;
    const dashed = { stroke: EDGE, lineWidth: 3, lineDash: [11, 7] };
    const solid = { stroke: EDGE, lineWidth: 3 };
    return {
        type: 'group',
        children: [
            { type: 'line', shape: { x1: lo[0], y1: lo[1], x2: q1[0], y2: q1[1] }, style: dashed },
            { type: 'line', shape: { x1: q3[0], y1: q3[1], x2: hi[0], y2: hi[1] }, style: dashed },
            { type: 'line', shape: { x1: lo[0] - cap, y1: lo[1], x2: lo[0] + cap, y2: lo[1] }, style: solid },
            { type: 'line', shape: { x1: hi[0] - cap, y1: hi[1], x2: hi[0] + cap, y2: hi[1] }, style: solid },
            {
                type: 'rect',
                shape: { x: q3[0] - half, y: q3[1], width: 2 * half, height: q1[1] - q3[1] },
                style: { fill: FILLS[api.value(6)], stroke: EDGE, lineWidth: 4 }
            },
            { type: 'line', shape: { x1: md[0] - half, y1: md[1], x2: md[0] + half, y2: md[1] }, style: { stroke: EDGE, lineWidth: 9 } }
        ]
    };
}

const grid = [];
const xAxis = [];
const yAxis = [];
const series = [];
const graphic = [];

panels.forEach(function (p, i) {
    const col = i % 3;
    const row = Math.floor(i / 3);

    grid.push({
        left: COL_LEFT[col], top: ROW_TOP[row], width: PLOT_W, height: PLOT_H,
        show: true, borderColor: '#000', borderWidth: 8, backgroundColor: 'transparent'
    });

    xAxis.push({
        gridIndex: i, type: 'value', min: -0.6, max: 28.6,
        splitLine: { show: false }, axisLine: { show: false }, axisTick: { show: false },
        axisLabel: {
            customValues: groups.map(function (g, k) { return slot(k, 1); }),
            formatter: function (v) { return groups[Math.round((v - 2) / 3)]; },
            fontSize: 64, fontWeight: 'bold', fontFamily: FONT, color: '#000', margin: 16
        }
    });

    yAxis.push({
        gridIndex: i, type: 'value', min: p.min, max: p.max,
        splitLine: { show: false }, axisLine: { show: false }, axisTick: { show: false },
        axisLabel: {
            customValues: p.ticks,
            formatter: function (v) { return v.toFixed(p.digits); },
            fontSize: 60, fontWeight: 'bold', fontFamily: FONT, color: '#000', margin: 22
        }
    });

    // dotted separators between the groups
    const seps = [];
    for (let k = 1; k < groups.length; k++) {
        seps.push([slot(k, 0) - 0.5, p.min]);
    }
    series.push({
        type: 'custom', xAxisIndex: i, yAxisIndex: i, z: 1, silent: true,
        data: seps,
        renderItem: function (params, api) {
            const cs = params.coordSys;
            const x = api.coord([api.value(0), p.min])[0];
            return {
                type: 'line',
                shape: { x1: x, y1: cs.y, x2: x, y2: cs.y + cs.height },
                style: { stroke: '#000', lineWidth: 2, lineDash: [3, 3] }
            };
        }
    });

    const boxes = [];
    [p.red, p.black, p.blue].forEach(function (arr, s) {
        arr.forEach(function (b, g) {
            boxes.push([slot(g, s), b[0], b[1], b[2], b[3], b[4], s]);
        });
    });
    series.push({
        type: 'custom', xAxisIndex: i, yAxisIndex: i, z: 3, silent: true,
        data: boxes, renderItem: boxRenderer
    });

    series.push({
        type: 'scatter', xAxisIndex: i, yAxisIndex: i, z: 4, silent: true,
        symbol: 'circle', symbolSize: 14,
        itemStyle: { color: 'rgba(255,255,255,0)', borderColor: EDGE, borderWidth: 2.5 },
        data: p.out.map(function (o) { return [slot(o[0], o[1]), o[2]]; })
    });

    series.push({
        type: 'custom', xAxisIndex: i, yAxisIndex: i, z: 5, silent: true, clip: false,
        data: p.sig.map(function (s) { return [slot(s[0], s[1]), slot(s[0], s[2]), s[3]]; }),
        renderItem: function (params, api) {
            const a = api.coord([api.value(0), api.value(2)]);
            const b = api.coord([api.value(1), api.value(2)]);
            return {
                type: 'group',
                children: [
                    { type: 'line', shape: { x1: a[0], y1: a[1], x2: b[0], y2: b[1] }, style: { stroke: '#000', lineWidth: 4 } },
                    {
                        type: 'text', x: (a[0] + b[0]) / 2, y: a[1] + 3,
                        style: { text: p.sig[params.dataIndex][4], font: 'bold 57px ' + FONT, fill: '#000', align: 'center', verticalAlign: 'middle' }
                    }
                ]
            };
        }
    });

    graphic.push({
        type: 'text', x: COL_LEFT[col] + PLOT_W / 2, y: ROW_TOP[row] - 41,
        style: { text: p.title, font: 'bold 68px ' + FONT, fill: '#000', align: 'center', verticalAlign: 'middle' }
    });

    if (col === 0) {
        graphic.push({
            type: 'text', x: 76, y: ROW_TOP[row] + PLOT_H / 2 + 45, rotation: Math.PI / 2,
            style: { text: 'Relative intensity (–)', font: 'bold 60px ' + FONT, fill: '#000', align: 'center', verticalAlign: 'middle' }
        });
    }
});

const chart = echarts.init(document.getElementById('chart'));
chart.setOption({
    animation: false,
    backgroundColor: '#fff',
    grid: grid,
    xAxis: xAxis,
    yAxis: yAxis,
    series: series,
    graphic: graphic
});
</script>
</body>
</html>
